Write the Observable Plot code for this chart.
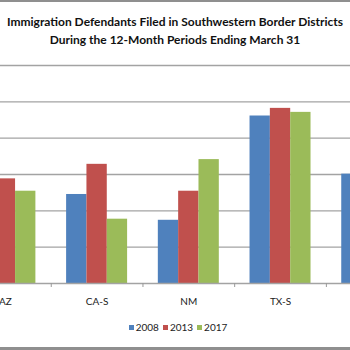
<!DOCTYPE html>
<html>
<head>
<meta charset="utf-8">
<script src="https://cdn.jsdelivr.net/npm/d3@7"></script>
<script src="https://cdn.jsdelivr.net/npm/@observablehq/plot@0.6"></script>
<style>
  html, body { margin: 0; padding: 0; background: #fff; }
  #wrap { position: relative; width: 350px; height: 350px; overflow: hidden; background: #fff; }
  #topline { position: absolute; left: 0; top: 0; width: 350px; height: 2px; background: #8f8f8f; }
  #botline { position: absolute; left: 0; top: 347px; width: 350px; height: 3px; background: #8f8f8f; }
  #title { position: absolute; left: 0; top: 13px; width: 350px; text-align: center;
           font-family: "Liberation Sans Narrow", Lato, sans-serif; font-weight: bold; font-size: 12px;
           line-height: 17.5px; color: #111; }
  #chart { position: absolute; left: 0; top: 55px; }
  #legend { position: absolute; left: 0; top: 321px; width: 350px; text-align: center;
            font-family: Lato, sans-serif; font-size: 10px; color: #222; padding-left: 6px; box-sizing: border-box; }
  #legend span.item { margin: 0 2px; white-space: nowrap; }
  #legend span.sw { display: inline-block; width: 5px; height: 5px; margin-right: 2px; vertical-align: 1px; }
</style>
</head>
<body>
<div id="wrap">
  <div id="topline"></div>
  <div id="title">Immigration Defendants Filed in Southwestern Border Districts<br>During the 12-Month Periods Ending March 31</div>
  <div id="chart"></div>
  <div id="legend"></div>
  <div id="botline"></div>
</div>
<script>
// ---- data ----
const districts = ["AZ", "CA-S", "NM", "TX-S", "TX-W"];
const years = ["2008", "2013", "2017"];
// values in defendants (estimated; null = not visible in the cropped image)
const values2008 = [null, 2450, 1740, 4610, 3010];
const values2013 = [2880, 3280, 2540, 4820, null];
const values2017 = [2540, 1770, 3410, 4710, null];
const gridValues = [0, 1000, 2000, 3000, 4000, 5000, 6000];
const colors = ["#4F81BD", "#C0504D", "#9BBB59"];

// ---- build table ----
const series = [values2008, values2013, values2017];
const groupW = 0.665, barW = groupW / 3;
const rows = [];
districts.forEach((d, i) => {
  years.forEach((yr, j) => {
    const v = series[j][i];
    if (v == null) return;
    const x1 = i - groupW / 2 + j * barW;
    rows.push({district: d, year: yr, value: v, x1, x2: x1 + barW});
  });
});
const xDomain = [-0.0534, 3.763];
// only label categories whose centre lies inside the visible (cropped) frame
const idx = districts.map((d, i) => i).filter(i => i >= xDomain[0] && i <= xDomain[1]);
const boundaries = districts.slice(1).map((d, i) => i + 0.5);

const chart = Plot.plot({
  width: 350,
  height: 258,
  marginLeft: 0,
  marginRight: 0,
  marginTop: 10,
  marginBottom: 30,
  style: {fontFamily: "Lato, sans-serif", background: "transparent"},
  x: {domain: xDomain, axis: null},
  y: {domain: [0, 6000], axis: null},
  color: {domain: years, range: colors},
  marks: [
    Plot.ruleY(gridValues.slice(1), {stroke: "#a3a3a3", strokeWidth: 1.3}),
    Plot.rect(rows, {x1: "x1", x2: "x2", y1: d => 0, y2: "value", fill: "year", clip: true}),
    Plot.ruleY([0], {stroke: "#a3a3a3", strokeWidth: 1.3}),
    Plot.axisX({ticks: boundaries, tickSize: 4, tickFormat: () => "", stroke: "#999"}),
    Plot.axisX({ticks: idx, tickFormat: i => districts[i], tickSize: 0, tickPadding: 14, fontSize: 10, fill: "#222"})
  ]
});
document.getElementById("chart").appendChild(chart);

// ---- legend ----
const legend = document.getElementById("legend");
years.forEach((yr, j) => {
  const item = document.createElement("span");
  item.className = "item";
  const sw = document.createElement("span");
  sw.className = "sw";
  sw.style.background = colors[j];
  item.appendChild(sw);
  item.appendChild(document.createTextNode(yr));
  legend.appendChild(item);
});
</script>
</body>
</html>
